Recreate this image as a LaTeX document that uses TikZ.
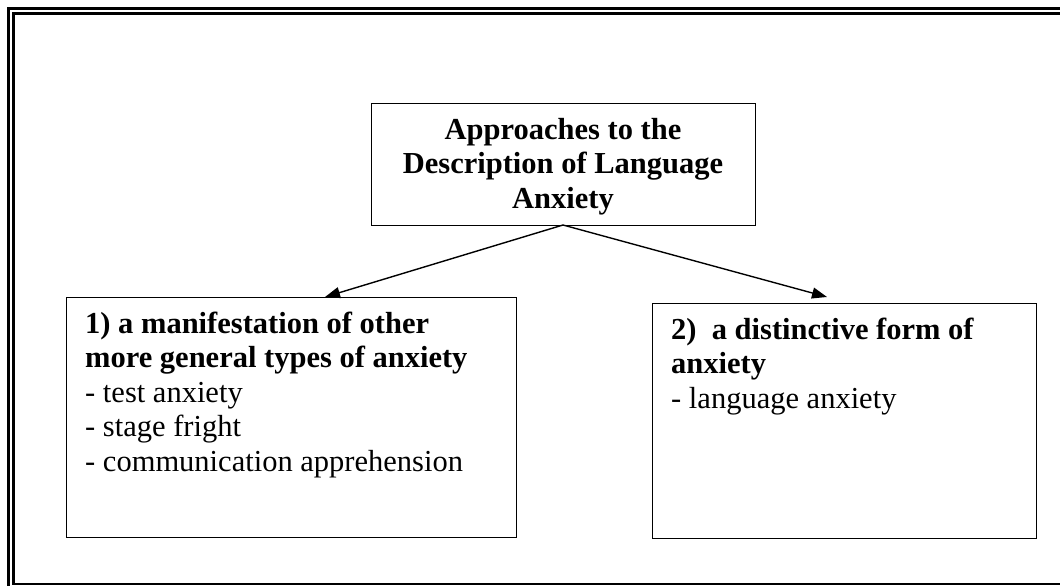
\documentclass[tikz,border=0pt]{standalone}
\usepackage{fontspec}
\setmainfont{Liberation Serif}
\usetikzlibrary{arrows.meta}
\begin{document}
\begin{tikzpicture}[x=1pt,y=-1pt,
  box/.style={draw, line width=1.4pt, anchor=north west, inner sep=0pt},
  txt/.style={anchor=base west, inner sep=0pt, font=\fontsize{30.5}{34.5}\selectfont},
  link/.style={line width=1.4pt, -{Triangle[length=15pt,width=11pt]}}
]
\useasboundingbox (0,0) rectangle (1060,586);
% double page frame, running past the right and bottom edges
\begin{scope}
  \clip (0,0) rectangle (1060,586);
  \draw[line width=3pt] (8.5,8.5) rectangle (1080,600);
  \draw[line width=2.2pt] (13.5,13.5) rectangle (1075,583.8);
\end{scope}

% boxes
\node[box, minimum width=384pt, minimum height=122pt] (top) at (371,103) {};
\node[box, minimum width=450pt, minimum height=240pt] (left) at (66,297) {};
\node[box, minimum width=384pt, minimum height=235pt] (right) at (652,303) {};

% box texts
\node[txt, anchor=base] (toptext) at (563,139)
  {\begin{tabular}[t]{@{}c@{}}\bfseries Approaches to the\\ \bfseries Description of Language\\ \bfseries Anxiety\end{tabular}};
\node[txt] (lefttext) at (85,333)
  {\begin{tabular}[t]{@{}l@{}}\bfseries 1) a manifestation of other\\ \bfseries more general types of anxiety\\ - test anxiety\\ - stage fright\\ - communication apprehension\end{tabular}};
\node[txt] (righttext) at (671,339)
  {\begin{tabular}[t]{@{}l@{}}\bfseries 2)\ \ a distinctive form of\\ \bfseries anxiety\\ - language anxiety\end{tabular}};

% connectors
\coordinate (fork) at (563,225);
\coordinate (tipL) at (325,297);
\coordinate (tipR) at (827,297);
\draw[link] (fork) -- (tipL);
\draw[link] (fork) -- (tipR);
\end{tikzpicture}
\end{document}
